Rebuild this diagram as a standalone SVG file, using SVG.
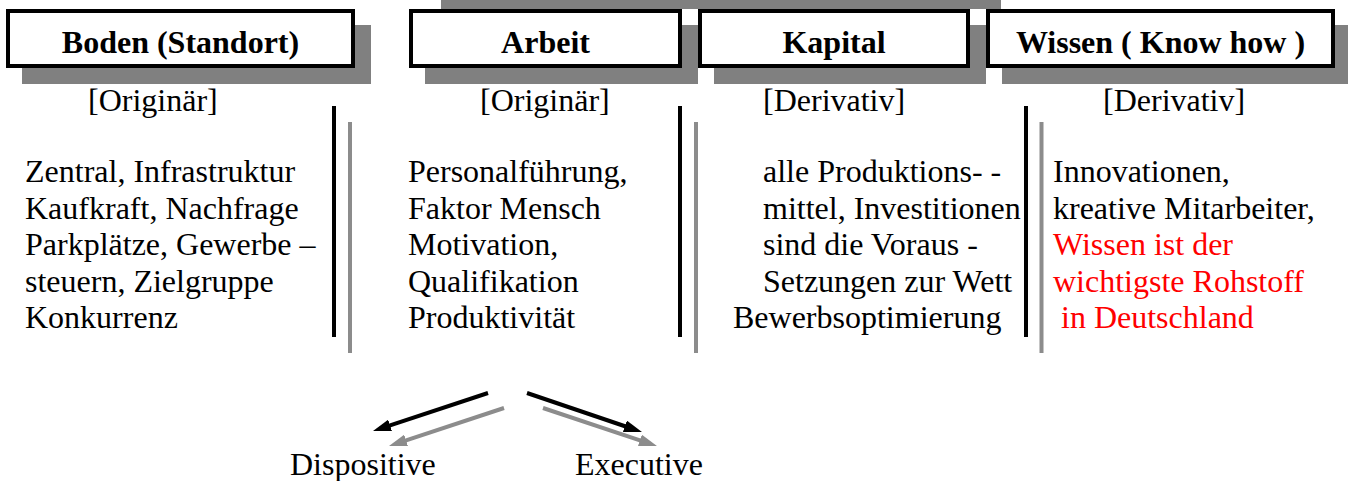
<svg xmlns="http://www.w3.org/2000/svg" width="1348" height="481" viewBox="0 0 1348 481">
<style>
.shadow{fill:#808080}
.box{fill:#fff;stroke:#000;stroke-width:4}
.hdr{font-family:'Liberation Serif','Times New Roman',Times,'DejaVu Serif',serif;font-size:32px;font-weight:bold;fill:#000;text-anchor:middle}
.t{font-family:'Liberation Serif','Times New Roman',Times,'DejaVu Serif',serif;font-size:32px;fill:#000}
.red{fill:#ff0000}
.vb{stroke:#000;stroke-width:4}
.vg{stroke:#8c8c8c;stroke-width:4}
.ab{stroke:#000;stroke-width:4;fill:none;marker-end:url(#hb)}
.ag{stroke:#8c8c8c;stroke-width:4;fill:none;marker-end:url(#hg)}
</style>
<defs>
<marker id="hb" markerUnits="userSpaceOnUse" markerWidth="18" markerHeight="12" refX="4" refY="6" orient="auto"><path d="M0,0 L18,6 L0,12 z" fill="#000"/></marker>
<marker id="hg" markerUnits="userSpaceOnUse" markerWidth="18" markerHeight="12" refX="4" refY="6" orient="auto"><path d="M0,0 L18,6 L0,12 z" fill="#8c8c8c"/></marker>
</defs>
<rect width="1348" height="481" fill="#fff"/>
<rect class="shadow" x="441" y="0" width="560" height="9"/>
<g id="boden">
<rect class="shadow" x="22" y="25" width="349" height="59"/>
<rect class="box" x="8" y="11" width="345" height="55"/>
<text class="hdr" x="180.5" y="53" font-family="Liberation Serif">Boden (Standort)</text>
<text class="t" x="88" y="111" font-family="Liberation Serif">[Originär]</text>
<text class="t" font-family="Liberation Serif"><tspan x="25" y="182">Zentral, Infrastruktur</tspan><tspan x="25" y="218.5">Kaufkraft, Nachfrage</tspan><tspan x="25" y="255">Parkplätze, Gewerbe –</tspan><tspan x="25" y="291.5">steuern, Zielgruppe</tspan><tspan x="25" y="328">Konkurrenz</tspan></text>
</g>
<g id="arbeit">
<rect class="shadow" x="425" y="25" width="273" height="59"/>
<rect class="box" x="411" y="11" width="269" height="55"/>
<text class="hdr" x="545.5" y="53">Arbeit</text>
<text class="t" x="480" y="111">[Originär]</text>
<text class="t"><tspan x="408" y="182">Personalführung,</tspan><tspan x="408" y="218.5">Faktor Mensch</tspan><tspan x="408" y="255">Motivation,</tspan><tspan x="408" y="291.5">Qualifikation</tspan><tspan x="408" y="328">Produktivität</tspan></text>
</g>
<g id="kapital">
<rect class="shadow" x="714" y="25" width="272" height="59"/>
<rect class="box" x="700" y="11" width="268" height="55"/>
<text class="hdr" x="834" y="53">Kapital</text>
<text class="t" x="763" y="111">[Derivativ]</text>
<text class="t"><tspan x="763" y="182">alle Produktions- -</tspan><tspan x="763" y="218.5">mittel, Investitionen</tspan><tspan x="763" y="255">sind die Voraus -</tspan><tspan x="763" y="291.5">Setzungen zur Wett</tspan><tspan x="733" y="328">Bewerbsoptimierung</tspan></text>
</g>
<g id="wissen">
<rect class="shadow" x="1002" y="25" width="349" height="59"/>
<rect class="box" x="988" y="11" width="345" height="55"/>
<text class="hdr" x="1160.5" y="53">Wissen ( Know how )</text>
<text class="t" x="1103" y="111">[Derivativ]</text>
<text class="t"><tspan x="1053" y="182">Innovationen,</tspan><tspan x="1053" y="218.5">kreative Mitarbeiter,</tspan><tspan class="red" x="1053" y="255">Wissen ist der</tspan><tspan class="red" x="1053" y="291.5">wichtigste Rohstoff</tspan><tspan class="red" x="1061" y="328">in Deutschland</tspan></text>
</g>
<g id="dispositive">
<text class="t" x="290" y="475">Dispositive</text>
</g>
<g id="executive">
<text class="t" x="575" y="475">Executive</text>
</g>
<g id="connectors">
<line class="vb" x1="334" y1="106" x2="334" y2="337"/>
<line class="vg" x1="350" y1="122" x2="350" y2="353"/>
<line class="vb" x1="680" y1="106" x2="680" y2="337"/>
<line class="vg" x1="696" y1="122" x2="696" y2="353"/>
<line class="vb" x1="1026" y1="106" x2="1026" y2="337"/>
<line class="vg" x1="1041.5" y1="122" x2="1041.5" y2="353"/>
<line class="ab" x1="488" y1="393" x2="386.3" y2="426.6"/>
<line class="ag" x1="504" y1="408" x2="402.3" y2="441.6"/>
<line class="ab" x1="527" y1="393" x2="628.7" y2="427.5"/>
<line class="ag" x1="543" y1="408" x2="643.7" y2="441.6"/>
</g>
</svg>
